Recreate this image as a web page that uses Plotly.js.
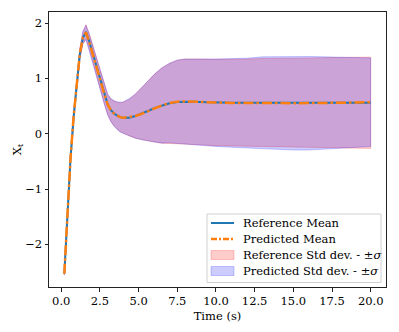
<!DOCTYPE html>
<html>
<head>
<meta charset="utf-8">
<script src="https://cdn.plot.ly/plotly-3.0.1.min.js"></script>
<style>
  html, body { margin: 0; padding: 0; background: #fff; }
  #chart { width: 399px; height: 332px; }
</style>
</head>
<body>
<div id="chart"></div>
<script>
// time samples (s)
const time = [0.2, 0.4, 0.6, 0.8, 1.0, 1.2, 1.4, 1.6, 1.8, 2.0, 2.2, 2.4, 2.6, 2.8, 3.0, 3.2, 3.4, 3.6, 3.8, 4.0,
  4.4, 4.8, 5.2, 5.6, 6.0, 6.5, 7.0, 7.5, 8.0, 8.5, 9.0, 10, 11, 12, 13, 14, 15, 16, 17, 18, 19, 20];

const refMean = [-2.53, -1.45, -0.45, 0.30, 0.92, 1.43, 1.73, 1.84, 1.68, 1.48, 1.30, 1.10, 0.90, 0.70, 0.53, 0.43, 0.37, 0.33, 0.30, 0.29,
  0.29, 0.32, 0.36, 0.41, 0.46, 0.51, 0.55, 0.575, 0.58, 0.58, 0.575, 0.565, 0.56, 0.56, 0.56, 0.56, 0.56, 0.56, 0.56, 0.56, 0.56, 0.56];

const predMean = [-2.53, -1.44, -0.45, 0.31, 0.93, 1.44, 1.74, 1.83, 1.67, 1.47, 1.29, 1.09, 0.89, 0.70, 0.53, 0.43, 0.37, 0.33, 0.30, 0.29,
  0.30, 0.32, 0.36, 0.41, 0.46, 0.51, 0.555, 0.58, 0.585, 0.58, 0.57, 0.56, 0.555, 0.555, 0.56, 0.555, 0.55, 0.55, 0.555, 0.56, 0.565, 0.57];

const refStd = [0.03, 0.04, 0.05, 0.06, 0.07, 0.09, 0.11, 0.13, 0.14, 0.15, 0.15, 0.155, 0.16, 0.17, 0.18, 0.20, 0.22, 0.24, 0.26, 0.28,
  0.33, 0.40, 0.47, 0.54, 0.61, 0.68, 0.72, 0.755, 0.77, 0.775, 0.775, 0.78, 0.785, 0.79, 0.80, 0.80, 0.805, 0.81, 0.815, 0.82, 0.82, 0.825];

const predStd = [0.03, 0.04, 0.05, 0.06, 0.07, 0.09, 0.11, 0.13, 0.14, 0.15, 0.16, 0.165, 0.17, 0.18, 0.19, 0.21, 0.23, 0.25, 0.27, 0.285,
  0.335, 0.40, 0.47, 0.54, 0.61, 0.68, 0.72, 0.75, 0.765, 0.775, 0.78, 0.79, 0.80, 0.81, 0.83, 0.84, 0.845, 0.845, 0.835, 0.82, 0.81, 0.80];

const legendLabels = ["Reference Mean", "Predicted Mean", "Reference Std dev. - ±<i>σ</i>", "Predicted Std dev. - ±<i>σ</i>"];

const font = "DejaVu Serif";
const fs = 11.5;
const W = 399, H = 332;
const M = { l: 49, r: 13, t: 12, b: 45 };

// pixel -> paper helpers for the hand-placed legend
const px = x => (x - M.l) / (W - M.l - M.r);
const py = y => (H - M.b - y) / (H - M.t - M.b);

function band(mean, std) {
  const up = mean.map((m, i) => m + std[i]);
  const lo = mean.map((m, i) => m - std[i]);
  return {
    x: time.concat(time.slice().reverse()),
    y: up.concat(lo.reverse())
  };
}

const refBand = band(refMean, refStd);
const predBand = band(predMean, predStd);

const REF_FILL = "rgba(255,0,0,0.2)";
const PRED_FILL = "rgba(0,0,255,0.2)";
const ORANGE_DASH = "10px,3px,2.5px,3px";

const traces = [
  {
    x: refBand.x, y: refBand.y,
    fill: "toself", mode: "lines",
    fillcolor: REF_FILL,
    line: { color: REF_FILL, width: 1 },
    name: legendLabels[2]
  },
  {
    x: predBand.x, y: predBand.y,
    fill: "toself", mode: "lines",
    fillcolor: PRED_FILL,
    line: { color: PRED_FILL, width: 1 },
    name: legendLabels[3]
  },
  {
    x: time, y: refMean,
    mode: "lines",
    line: { color: "#1f77b4", width: 2 },
    name: legendLabels[0]
  },
  {
    x: time, y: predMean,
    mode: "lines",
    line: { color: "#ff7f0e", width: 2.5, dash: ORANGE_DASH },
    name: legendLabels[1]
  }
];

// legend box, handles and labels
const rowY = [223, 239, 255, 271];
const shapes = [
  {
    type: "rect", xref: "paper", yref: "paper", layer: "above",
    x0: px(207), x1: px(381), y0: py(282.5), y1: py(214),
    fillcolor: "rgba(255,255,255,0.8)", line: { color: "#d0d0d0", width: 1 }
  },
  {
    type: "line", xref: "paper", yref: "paper", layer: "above",
    x0: px(211), x1: px(234), y0: py(rowY[0]), y1: py(rowY[0]),
    line: { color: "#1f77b4", width: 2 }
  },
  {
    type: "line", xref: "paper", yref: "paper", layer: "above",
    x0: px(211), x1: px(234), y0: py(rowY[1]), y1: py(rowY[1]),
    line: { color: "#ff7f0e", width: 2.5, dash: "6px,2px,2px,2px" }
  },
  {
    type: "rect", xref: "paper", yref: "paper", layer: "above",
    x0: px(211), x1: px(234), y0: py(rowY[2] + 4.5), y1: py(rowY[2] - 4.5),
    fillcolor: REF_FILL, line: { color: REF_FILL, width: 1 }
  },
  {
    type: "rect", xref: "paper", yref: "paper", layer: "above",
    x0: px(211), x1: px(234), y0: py(rowY[3] + 4.5), y1: py(rowY[3] - 4.5),
    fillcolor: PRED_FILL, line: { color: PRED_FILL, width: 1 }
  }
];

const annotations = legendLabels.map((label, i) => ({
  text: label, xref: "paper", yref: "paper",
  x: px(241), y: py(rowY[i]), xanchor: "left", yanchor: "middle",
  showarrow: false, font: { family: font, size: fs, color: "#000" }
}));

const axis = {
  showline: true, mirror: true, linecolor: "#222", linewidth: 1,
  ticks: "outside", ticklen: 3.5, tickcolor: "#222",
  showgrid: false, zeroline: false,
  tickfont: { family: font, size: fs, color: "#000" }
};

const layout = {
  width: W, height: H,
  margin: M,
  paper_bgcolor: "#fff", plot_bgcolor: "#fff",
  font: { family: font, size: fs, color: "#000" },
  showlegend: false,
  shapes: shapes,
  annotations: annotations,
  xaxis: Object.assign({}, axis, {
    range: [-0.79, 20.99],
    tickvals: [0, 2.5, 5, 7.5, 10, 12.5, 15, 17.5, 20],
    tickformat: ".1f",
    title: { text: "Time (s)", font: { family: font, size: fs }, standoff: 4 }
  }),
  yaxis: Object.assign({}, axis, {
    range: [-2.77, 2.2],
    tickvals: [-2, -1, 0, 1, 2],
    title: { text: "X<sub>t</sub>", font: { family: font, size: fs }, standoff: 1 }
  })
};

Plotly.newPlot("chart", traces, layout, { displayModeBar: false, staticPlot: true });
</script>
</body>
</html>
